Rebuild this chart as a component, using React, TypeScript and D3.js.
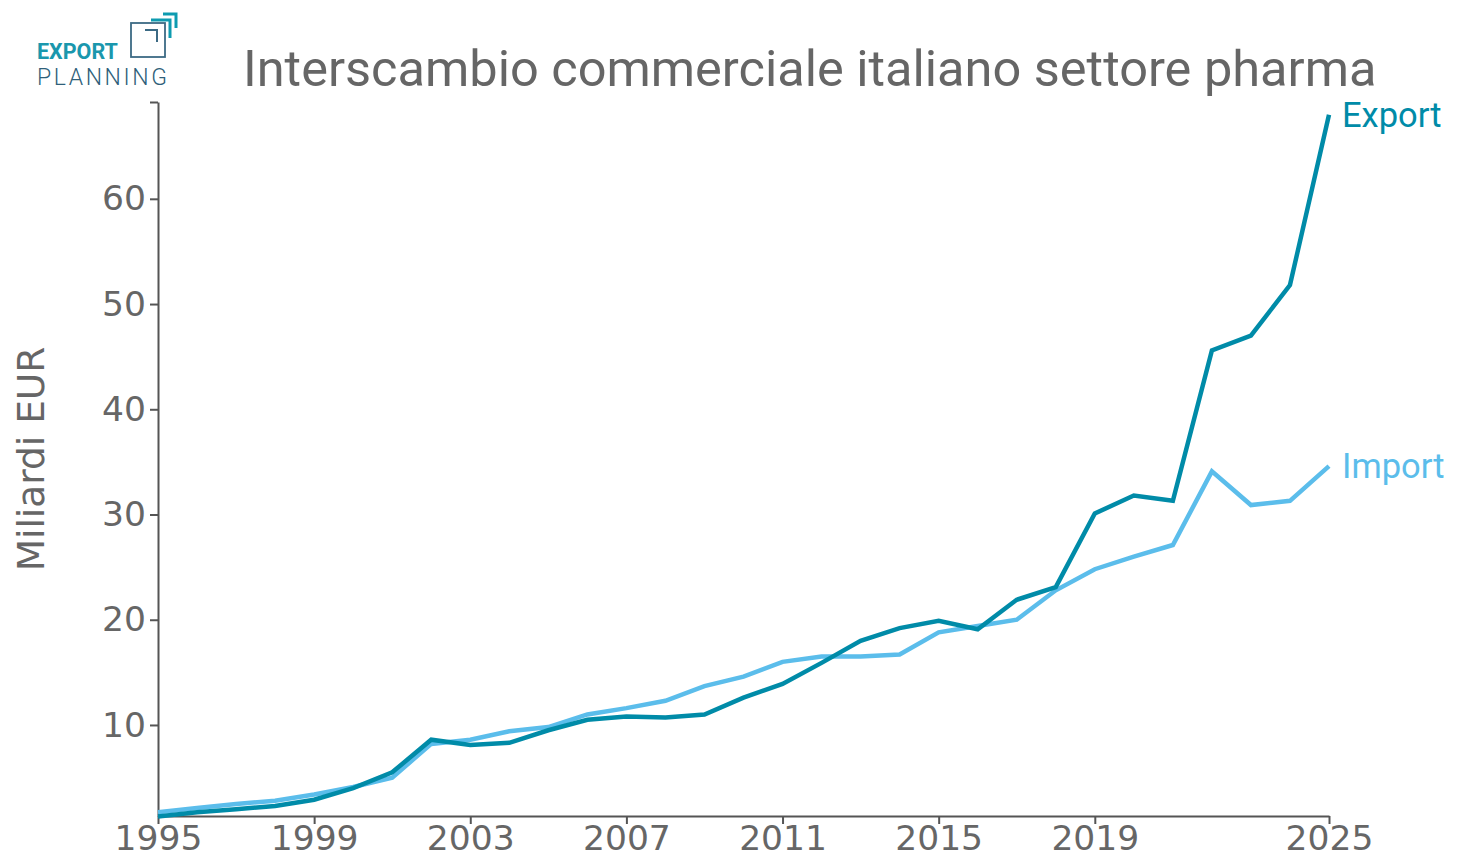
import React, { useEffect, useRef } from "react";
import * as d3 from "d3";

const years = d3.range(1995, 2026);
const exportValues = [
  1.3, 1.7, 2.0, 2.3, 2.9, 4.0, 5.5, 8.6, 8.1, 8.3, 9.5, 10.5, 10.8, 10.7, 11.0,
  12.6, 13.9, 15.9, 18.0, 19.2, 19.9, 19.1, 21.9, 23.1, 30.1, 31.8, 31.3, 45.6,
  47.0, 51.8, 68.0,
];
const importValues = [
  1.7, 2.1, 2.5, 2.8, 3.4, 4.1, 5.0, 8.2, 8.6, 9.4, 9.8, 11.0, 11.6, 12.3, 13.7,
  14.6, 16.0, 16.5, 16.5, 16.7, 18.8, 19.4, 20.0, 22.8, 24.8, 26.0, 27.1, 34.1,
  30.9, 31.3, 34.6,
];
const xTicks = [1995, 1999, 2003, 2007, 2011, 2015, 2019, 2025];
const yTicks = [10, 20, 30, 40, 50, 60];

const EXPORT_COLOR = "#008ba8";
const IMPORT_COLOR = "#5bbdeb";
const TEXT_COLOR = "#666666";
const AXIS_COLOR = "#555555";

export default function App() {
  const ref = useRef<SVGGElement>(null);

  // plot area
  const left = 158,
    right = 1329,
    top = 102,
    bottom = 816;

  const x = d3.scaleLinear().domain([1995, 2025]).range([left, right]);
  const y = d3.scaleLinear().domain([1.35, 69.2]).range([bottom, top]);

  useEffect(() => {
    const g = d3.select(ref.current);
    g.selectAll("*").remove();

    // y axis
    const yAxis = g
      .append("g")
      .attr("transform", `translate(${left},0)`)
      .call(
        d3
          .axisLeft(y)
          .tickValues([...yTicks, 69.2])
          .tickFormat((d) => (d === 69.2 ? "" : String(d)))
          .tickSizeInner(8)
          .tickSizeOuter(0)
          .tickPadding(4)
      );
    yAxis.select(".domain").attr("stroke", AXIS_COLOR).attr("stroke-width", 2);
    yAxis.selectAll(".tick line").attr("stroke", AXIS_COLOR).attr("stroke-width", 2);
    yAxis
      .selectAll(".tick text")
      .attr("fill", TEXT_COLOR)
      .attr("font-family", "DejaVu Sans")
      .attr("font-size", 34.5);

    // x axis
    const xAxis = g
      .append("g")
      .attr("transform", `translate(0,${bottom})`)
      .call(
        d3
          .axisBottom(x)
          .tickValues(xTicks)
          .tickFormat((d) => String(d))
          .tickSizeInner(8)
          .tickSizeOuter(0)
          .tickPadding(2)
      );
    xAxis.select(".domain").attr("stroke", AXIS_COLOR).attr("stroke-width", 2);
    xAxis.selectAll(".tick line").attr("stroke", AXIS_COLOR).attr("stroke-width", 2);
    xAxis
      .selectAll(".tick text")
      .attr("fill", TEXT_COLOR)
      .attr("font-family", "DejaVu Sans")
      .attr("font-size", 34.5);

    const line = d3
      .line<number>()
      .x((_, i) => x(years[i]))
      .y((d) => y(d));

    const series = [
      { name: "Import", values: importValues, color: IMPORT_COLOR },
      { name: "Export", values: exportValues, color: EXPORT_COLOR },
    ];

    series.forEach((s) => {
      g.append("path")
        .datum(s.values)
        .attr("fill", "none")
        .attr("stroke", s.color)
        .attr("stroke-width", 4.5)
        .attr("d", line);

      g.append("text")
        .attr("x", x(2025) + 13)
        .attr("y", y(s.values[s.values.length - 1]) + 12)
        .attr("fill", s.color)
        .attr("font-family", "Roboto")
        .attr("font-size", 34.5)
        .text(s.name);
    });
  }, []);

  return (
    <svg width={1463} height={861} style={{ position: "absolute", left: 0, top: 0 }}>
      {/* logo */}
      <g>
        <rect x={131} y={23} width={34} height={34} fill="none" stroke="#3c6a84" strokeWidth={1.8} />
        <path d="M145,30 L157,30 L157,42" fill="none" stroke="#3c6a84" strokeWidth={2} />
        <path d="M151,20 L170,20 L170,38" fill="none" stroke="#0e9bb0" strokeWidth={3} />
        <path d="M163,14 L176,14 L176,28" fill="none" stroke="#0e9bb0" strokeWidth={3} />
        <text x={37} y={59} fontFamily="Roboto" fontWeight={700} fontSize={21.5} fill="#1a97ad">
          EXPORT
        </text>
        <text x={37} y={85} fontFamily="Roboto" fontWeight={300} fontSize={23} fill="#2f5f7a" letterSpacing={2.6}>
          PLANNING
        </text>
      </g>
      <text x={243} y={86} fontFamily="Roboto" fontSize={50.5} fill={TEXT_COLOR}>
        Interscambio commerciale italiano settore pharma
      </text>
      <text
        transform="translate(44,459) rotate(-90)"
        textAnchor="middle"
        fontFamily="DejaVu Sans"
        fontSize={37.5}
        fill={TEXT_COLOR}
      >
        Miliardi EUR
      </text>
      <g ref={ref} />
    </svg>
  );
}
